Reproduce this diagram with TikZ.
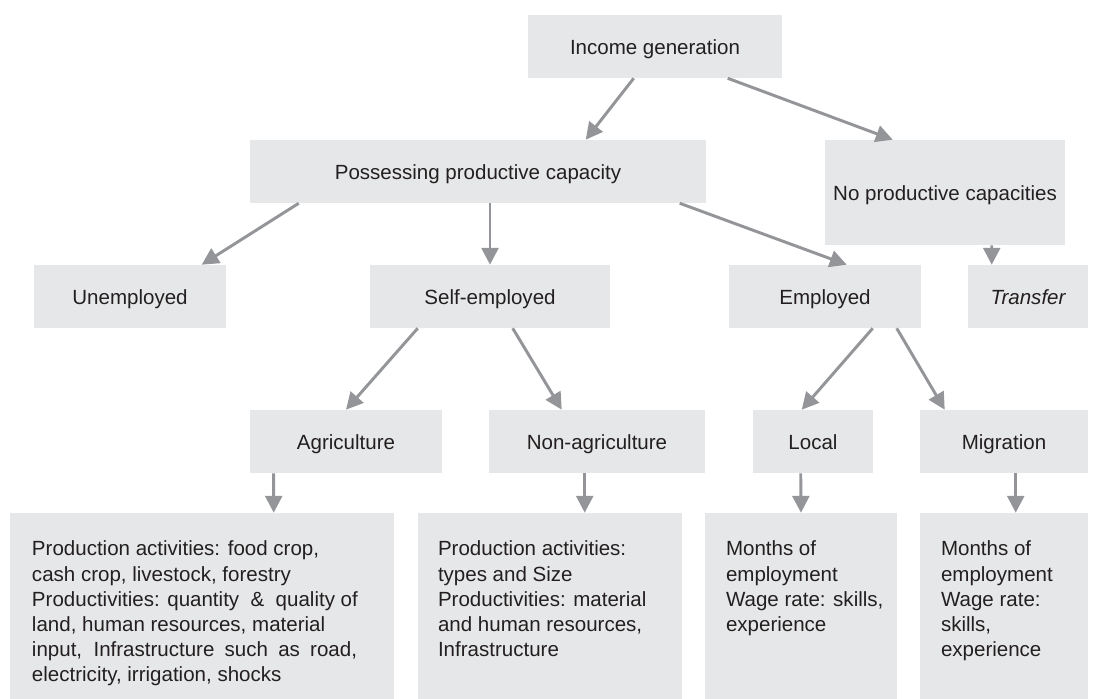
\documentclass[tikz,border=0pt]{standalone}
\usepackage{fontspec}
\setmainfont{Liberation Sans}
\usetikzlibrary{arrows.meta, positioning}

\definecolor{boxgray}{RGB}{230,231,232}
\definecolor{linegray}{RGB}{147,149,152}
\definecolor{inkgray}{RGB}{35,31,32}

\begin{document}
\begin{tikzpicture}[
  box/.style={fill=boxgray, text=inkgray, inner sep=0pt, minimum height=1.575cm,
    text height=12pt, text depth=0pt, font=\fontsize{14.6}{17.9}\selectfont},
  body/.style={text=inkgray, inner sep=0pt, anchor=north west, align=left,
    font=\fontsize{14.6}{17.9}\selectfont},
  flow/.style={draw=linegray, line width=2.1pt, -{Triangle[length=12pt, width=12pt]}}
]
\useasboundingbox (0,0) rectangle (27.4,17.475);

% Top level
\node[box, minimum width=6.35cm] (inc) at (16.375,16.3125) {Income generation};

% Second level
\node[box, minimum width=11.4cm] (pos) at (11.95,13.1875) {Possessing productive capacity};
\node[box, minimum width=6cm, minimum height=2.625cm] (nop) at (23.625,12.6625) {No productive capacities};

% Third level
\node[box, minimum width=4.8cm] (unemp) at (3.25,10.0625) {Unemployed};
\node[box, minimum width=6cm] (self) at (12.25,10.0625) {Self-employed};
\node[box, minimum width=4.8cm] (emp) at (20.625,10.0625) {Employed};
\node[box, minimum width=3cm] (trans) at (25.7,10.0625) {\itshape Transfer};

% Fourth level
\node[box, minimum width=4.8cm] (agri) at (8.65,6.4375) {Agriculture};
\node[box, minimum width=5.4cm] (nonag) at (14.925,6.4375) {Non-agriculture};
\node[box, minimum width=3cm] (local) at (20.325,6.4375) {Local};
\node[box, minimum width=4.2cm] (migr) at (25.1,6.4375) {Migration};

% Detail boxes
\node[box, minimum width=9.6cm, minimum height=4.65cm] (b1) at (5.05,2.325) {};
\node[box, minimum width=6.6cm, minimum height=4.65cm] (b2) at (13.75,2.325) {};
\node[box, minimum width=4.8cm, minimum height=4.65cm] (b3) at (20.025,2.325) {};
\node[box, minimum width=4.2cm, minimum height=4.65cm] (b4) at (25.1,2.325) {};

\node[body] (b1t) at ([xshift=0.55cm, yshift=-0.7cm]b1.north west)
  {Production activities: food crop,\\
   cash crop, livestock, forestry\\
   Productivities: quantity~~\&~~quality of\\
   land, human resources, material\\
   \makebox[8.125cm][s]{input, Infrastructure such as road,}\\
   electricity, irrigation, shocks};
\node[body] (b2t) at ([xshift=0.5cm, yshift=-0.7cm]b2.north west)
  {Production activities:\\
   types and Size\\
   Productivities: material\\
   and human resources,\\
   Infrastructure};
\node[body] (b3t) at ([xshift=0.525cm, yshift=-0.7cm]b3.north west)
  {Months of\\
   employment\\
   Wage rate: skills,\\
   experience};
\node[body] (b4t) at ([xshift=0.525cm, yshift=-0.7cm]b4.north west)
  {Months of\\
   employment\\
   Wage rate:\\
   skills,\\
   experience};

% Connectors
\draw[flow] ([xshift=2.65cm]inc.south west) -- ([xshift=8.4cm]pos.north west);
\draw[flow] ([xshift=5cm]inc.south west) -- ([xshift=1.7cm]nop.north west);

\draw[flow] ([xshift=1.225cm]pos.south west) -- ([xshift=4.2cm]unemp.north west);
\draw[flow] (pos.south -| self.north) -- (self.north);
\draw[flow] ([xshift=10.75cm]pos.south west) -- ([xshift=2.95cm]emp.north west);
\draw[flow] ([xshift=4.175cm]nop.south west) -- ([xshift=0.6cm]trans.north west);

\draw[flow] ([xshift=1.2cm]self.south west) -- (agri.north);
\draw[flow] ([xshift=3.575cm]self.south west) -- ([xshift=1.825cm]nonag.north west);
\draw[flow] ([xshift=3.6cm]emp.south west) -- ([xshift=1.225cm]local.north west);
\draw[flow] ([xshift=4.2cm]emp.south west) -- ([xshift=0.625cm]migr.north west);

\draw[flow] ([xshift=0.6cm]agri.south west) -- ([xshift=6.6cm]b1.north west);
\draw[flow] ([xshift=2.4cm]nonag.south west) -- ([xshift=4.175cm]b2.north west);
\draw[flow] ([xshift=1.2cm]local.south west) -- (b3.north);
\draw[flow] ([xshift=2.4cm]migr.south west) -- ([xshift=2.4cm]b4.north west);

\end{tikzpicture}
\end{document}
